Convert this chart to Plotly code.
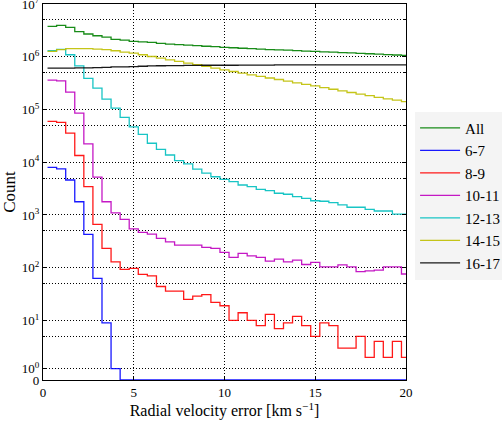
import numpy as np
import plotly.graph_objects as go

# ---- data (bin width 0.5 km/s) ----
bin_edges = np.arange(0.25, 20.26, 0.5)  # 41 edges, 40 bins

counts_all = [3.75e6, 3.95e6, 3.6e6, 3.0e6, 2.7e6, 2.5e6, 2.36e6, 2.13e6, 2.07e6, 1.95e6,
              1.92e6, 1.87e6, 1.79e6, 1.74e6, 1.70e6, 1.66e6, 1.62e6, 1.58e6, 1.55e6, 1.51e6,
              1.48e6, 1.45e6, 1.42e6, 1.40e6, 1.37e6, 1.35e6, 1.33e6, 1.31e6, 1.28e6, 1.26e6,
              1.24e6, 1.22e6, 1.20e6, 1.18e6, 1.16e6, 1.14e6, 1.12e6, 1.10e6, 1.08e6, 1.06e6]
counts_6_7 = [7960, 7450, 4600, 1780, 429, 63, 9, 1] + [0] * 32
counts_8_9 = [59400, 57000, 35500, 13400, 3440, 664, 232, 129, 93, 97,
              75, 70, 44, 36, 36, 25, 29, 31, 22, 19,
              10, 14, 10, 8, 13, 7, 9, 12, 8, 5,
              9, 8, 3, 3, 5, 2, 4, 2, 4, 2]
counts_10_11 = [3.6e5, 3.5e5, 2.13e5, 8.5e4, 2.22e4, 5200, 1780, 1100, 826, 547,
                468, 434, 360, 310, 269, 269, 269, 243, 232, 195,
                157, 187, 168, 157, 133, 146, 129, 139, 115, 126,
                104, 104, 113, 104, 84, 87, 90, 104, 104, 76]
counts_12_13 = [1.3e6, 1.38e6, 1.09e6, 6.7e5, 3.9e5, 2.54e5, 1.57e5, 1.06e5, 7.1e4, 4.7e4,
                3.37e4, 2.29e4, 1.75e4, 1.37e4, 1.07e4, 9300, 7400, 6200, 5300, 4750,
                4300, 3700, 3440, 3070, 2890, 2580, 2470, 2220, 2070, 1860,
                1820, 1710, 1560, 1400, 1400, 1280, 1190, 1190, 1040, 1040]
counts_14_15 = [1.26e6, 1.37e6, 1.42e6, 1.43e6, 1.43e6, 1.40e6, 1.36e6, 1.30e6, 1.22e6, 1.17e6,
                1.09e6, 1.01e6, 9.4e5, 8.75e5, 8.2e5, 7.6e5, 7.1e5, 6.6e5, 6.1e5, 5.65e5,
                5.25e5, 4.9e5, 4.55e5, 4.25e5, 3.95e5, 3.7e5, 3.45e5, 3.2e5, 3.0e5, 2.8e5,
                2.6e5, 2.42e5, 2.26e5, 2.1e5, 1.96e5, 1.83e5, 1.7e5, 1.59e5, 1.5e5, 1.41e5]
counts_16_17 = [6.1e5, 6.1e5, 6.1e5, 6.15e5, 6.15e5, 6.2e5, 6.3e5, 6.4e5, 6.45e5, 6.5e5,
                6.6e5, 6.7e5, 6.75e5, 6.8e5, 6.8e5, 6.85e5, 6.85e5, 6.9e5, 6.9e5, 6.9e5,
                6.9e5, 6.95e5, 6.95e5, 6.95e5, 6.95e5] + [7.0e5] * 15

series_names = ["All", "6-7", "8-9", "10-11", "12-13", "14-15", "16-17"]
series_counts = [counts_all, counts_6_7, counts_8_9, counts_10_11,
                 counts_12_13, counts_14_15, counts_16_17]
series_colors = ["#008000", "#0000ff", "#ff0000", "#bf00bf", "#00bfbf", "#bfbf00", "#000000"]

x_ticks = [0, 5, 10, 15, 20]
y_major = [0, 1, 10, 100, 1e3, 1e4, 1e5, 1e6, 1e7]
y_major_text = ["0", "10<sup>0</sup>", "10<sup>1</sup>", "10<sup>2</sup>", "10<sup>3</sup>",
                "10<sup>4</sup>", "10<sup>5</sup>", "10<sup>6</sup>", "10<sup>7</sup>"]
y_minor = [5, 50, 500, 5e3, 5e4, 5e5, 5e6]

# symmetric-log scale (linear below the threshold)
LINTHRESH = 2.0
LINDEC = 0.43


def symlog(v):
    v = np.asarray(v, dtype=float)
    return np.where(v < LINTHRESH, v / LINTHRESH * LINDEC,
                    LINDEC + np.log10(np.maximum(v, LINTHRESH) / LINTHRESH))


FONT = "Liberation Serif"

fig = go.Figure()
for name, cnt, col in zip(series_names, series_counts, series_colors):
    yy = list(cnt) + [cnt[-1]]
    fig.add_trace(go.Scatter(
        x=bin_edges, y=symlog(yy), mode="lines", name=name,
        line=dict(color=col, width=1.3, shape="hv"), opacity=0.9,
    ))

grid_dash = "1px,2px"
y_top = float(symlog(1e7)) + 1e-6
fig.update_layout(
    width=502, height=421,
    margin=dict(l=43, r=96, t=4, b=41, autoexpand=False),
    paper_bgcolor="white", plot_bgcolor="white",
    font=dict(family=FONT, size=13, color="black"),
    showlegend=True,
    legend=dict(x=1.025, y=0.714, xanchor="left", yanchor="top",
                bgcolor="#f4f4f4", borderwidth=0, itemwidth=40,
                font=dict(family=FONT, size=15, color="black")),
    xaxis=dict(range=[0, 20], tickvals=x_ticks, ticktext=[str(t) for t in x_ticks],
               showgrid=True, gridcolor="black", gridwidth=1, griddash=grid_dash,
               showline=True, linecolor="black", linewidth=1.2, mirror="ticks",
               ticks="inside", ticklen=4, tickcolor="black", zeroline=False,
               title=dict(text="Radial velocity error [km s<sup>\u22121</sup>]",
                          font=dict(family=FONT, size=16), standoff=0)),
    yaxis=dict(range=[0, y_top], tickvals=list(symlog(y_major)), ticktext=y_major_text,
               ticklabeloverflow="allow",
               showgrid=True, gridcolor="black", gridwidth=1, griddash=grid_dash,
               showline=True, linecolor="black", linewidth=1.2, mirror="ticks",
               ticks="inside", ticklen=4, tickcolor="black", zeroline=False,
               minor=dict(tickvals=list(symlog(y_minor)), showgrid=True, gridcolor="black",
                          gridwidth=1, griddash=grid_dash, ticks="inside", ticklen=2,
                          tickcolor="black"),
               title=dict(text="Count", font=dict(family=FONT, size=17), standoff=6)),
)

fig.write_html("out.html", config={"displayModeBar": False},
               post_script="document.body.style.margin='0';")
